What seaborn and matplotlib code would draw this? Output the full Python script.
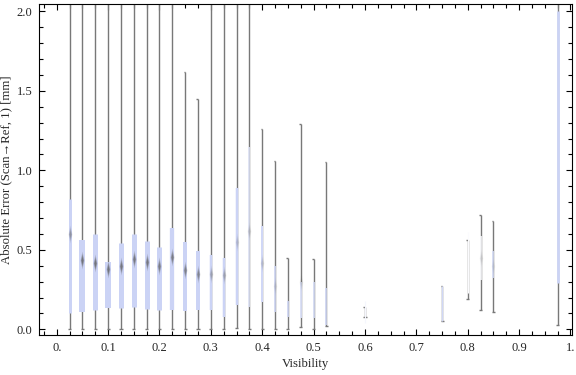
import numpy as np
import pandas as pd
import matplotlib
matplotlib.use("Agg")
import matplotlib.pyplot as plt
import seaborn as sns
from matplotlib.path import Path
from matplotlib.ticker import MultipleLocator

# visibility bins
visibility = [0.025, 0.05, 0.075, 0.1, 0.125, 0.15, 0.175, 0.2, 0.225, 0.25,
              0.275, 0.3, 0.325, 0.35, 0.375, 0.4, 0.425, 0.45, 0.475, 0.5,
              0.525, 0.6, 0.75, 0.8, 0.825, 0.85, 0.975]
# whisker ends
whisker_lo = [0.0, 0.0, 0.0, 0.0, 0.0, 0.0, 0.0, 0.0, 0.0, 0.0,
              0.0, 0.0, 0.0, 0.01, 0.0, 0.0, 0.0, 0.0, 0.015, 0.0,
              0.02, 0.08, 0.05, 0.19, 0.12, 0.11, 0.03]
whisker_hi = [2.3, 2.3, 2.3, 2.3, 2.3, 2.3, 2.3, 2.3, 2.3, 1.62,
              1.45, 2.3, 2.3, 2.3, 2.3, 1.26, 1.06, 0.45, 1.29, 0.44,
              1.05, 0.14, 0.27, 0.56, 0.72, 0.68, 2.3]
# boxes (quartiles)
q1 = [0.10, 0.11, 0.12, 0.136, 0.136, 0.142, 0.13, 0.123, 0.123, 0.117,
      0.123, 0.12, 0.08, 0.15, 0.14, 0.17, 0.11, 0.08, 0.07, 0.07,
      0.03, 0.04, 0.05, 0.23, 0.31, 0.32, 0.29]
q3 = [0.82, 0.56, 0.60, 0.425, 0.54, 0.60, 0.555, 0.516, 0.64, 0.55,
      0.49, 0.47, 0.45, 0.89, 1.15, 0.65, 0.40, 0.18, 0.30, 0.30,
      0.26, 0.18, 0.27, 0.61, 0.59, 0.49, 2.0]
median = [0.60, 0.435, 0.42, 0.38, 0.40, 0.445, 0.425, 0.40, 0.455, 0.375,
          0.345, 0.35, 0.34, 0.55, 0.62, 0.42, 0.27, 0.12, 0.30, 0.15,
          0.12, 0.11, 0.15, 0.40, 0.45, 0.40, 1.0]

# styling per bin (box width in px, colour strength, median darkness)
box_px = [3, 6, 5, 6, 5, 5, 5, 5, 4.3, 4, 4, 2.5, 2.5, 2.5, 1.6, 2, 1.6, 1.6,
          1.8, 1.6, 1.6, 1.2, 1.2, 1.2, 1.6, 1.6, 2.7]
strength = [1, 1, 1, 1, 1, 1, 1, 1, 1, 1, 1, 1, 1, 1, 0.6, 0.9, 0.9, 0.9,
            0.7, 0.8, 0.9, 0.2, 0.9, 0.08, 0.1, 0.8, 1]
med_alpha = [0.45, 0.8, 0.8, 0.8, 0.75, 0.75, 0.75, 0.7, 0.7, 0.65, 0.6,
             0.35, 0.35, 0.2, 0.2, 0.2, 0.15, 0.0, 0.15, 0.0, 0.0, 0.0,
             0.0, 0.0, 0.15, 0.1, 0.0]

df = pd.DataFrame({"visibility": visibility, "wlo": whisker_lo, "whi": whisker_hi,
                   "q1": q1, "q3": q3, "median": median})

sns.set_style("ticks")
plt.rcParams["font.family"] = ["Liberation Serif", "DejaVu Serif"]
plt.rcParams["font.size"] = 9

fig = plt.figure(figsize=(5.76, 3.75), dpi=100)
ax = fig.add_axes([0.0682, 0.1075, 0.924, 0.881])

px = 72 / 100  # one pixel in points
lavender = np.array([203, 211, 245]) / 255
wcol = "#787878"

# whiskers
ax.vlines(df["visibility"], df["wlo"], df["whi"], color=wcol, lw=1.0, zorder=1)
cap_w = 0.003
ax.hlines(df["wlo"], df["visibility"] - cap_w, df["visibility"] + cap_w, color=wcol,
          lw=1.0, zorder=1)
ax.hlines(df["whi"], df["visibility"] - cap_w, df["visibility"], color=wcol,
          lw=1.0, zorder=1)

# boxes
for i, row in df.iterrows():
    col = 1 - strength[i] * (1 - lavender)
    ax.vlines(row["visibility"], row["q1"], row["q3"], color=col,
              lw=box_px[i] * px, capstyle="butt", zorder=2)

# blurred median markers
diamond = Path([(0, -1), (0.22, 0), (0, 1), (-0.22, 0), (0, -1)],
               [Path.MOVETO, Path.LINETO, Path.LINETO, Path.LINETO, Path.CLOSEPOLY])
for scale, a in [(170, 0.3), (90, 0.55), (35, 0.6)]:
    for i, row in df.iterrows():
        if med_alpha[i] <= 0:
            continue
        sns.scatterplot(x=[row["visibility"]], y=[row["median"]], ax=ax, marker=diamond,
                        s=scale, color="#5a5a5a", alpha=a * med_alpha[i],
                        linewidth=0, zorder=3, legend=False)

ax.set_xlim(-0.034, 1.002)
ax.set_ylim(-0.034, 2.045)
ax.xaxis.set_major_locator(MultipleLocator(0.1))
ax.xaxis.set_minor_locator(MultipleLocator(0.025))
ax.yaxis.set_major_locator(MultipleLocator(0.5))
ax.yaxis.set_minor_locator(MultipleLocator(0.1))
xt = np.round(np.arange(0, 1.01, 0.1), 1)
ax.set_xticks(xt)
ax.set_xticklabels(["0." if v == 0 else ("1." if v == 1 else f"{v:.1f}") for v in xt])
yt = np.arange(0, 2.01, 0.5)
ax.set_yticks(yt)
ax.set_yticklabels([f"{v:.1f}" for v in yt])
ax.tick_params(which="both", direction="in", top=True, right=True, width=0.8,
               color="black", labelsize=9, pad=5)
ax.tick_params(which="major", length=4)
ax.tick_params(which="minor", length=3)
for s in ax.spines.values():
    s.set_linewidth(0.8)
    s.set_color("black")

ax.set_xlabel("Visibility", fontsize=9.2, labelpad=3)
ax.set_ylabel("Absolute Error (Scan\u2192Ref, 1) [mm]", fontsize=9.2, labelpad=3)

fig.savefig("out.png", dpi=100)
